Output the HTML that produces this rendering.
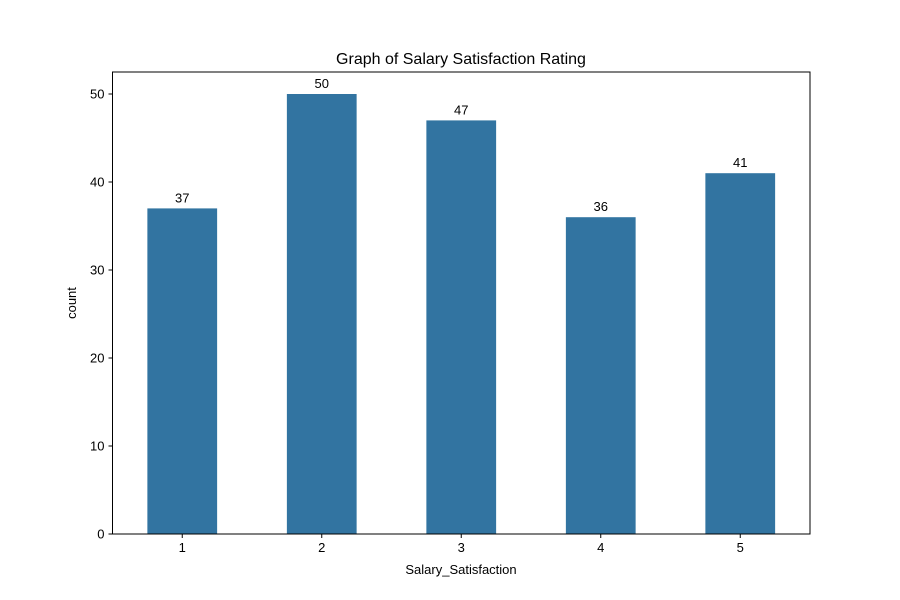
<!DOCTYPE html>
<html><head><meta charset="utf-8"><style>
body{margin:0;background:#fff}
svg{display:block;font-family:"Liberation Sans","DejaVu Sans",sans-serif}
</style></head><body>
<svg id="chart" width="900" height="600">
<rect width="900" height="600" fill="#fff"/>
<text x="461" y="64" text-anchor="middle" font-size="16">Graph of Salary Satisfaction Rating</text>
<g id="marks"></g>
<rect x="112.5" y="72" width="697.5" height="462" fill="none" stroke="#000" stroke-width="1"/>
<text x="461" y="574" text-anchor="middle" font-size="13">Salary_Satisfaction</text>
<text transform="translate(76,303) rotate(-90)" text-anchor="middle" font-size="13">count</text>
</svg>
<script>
const categories = ["1","2","3","4","5"];
const counts = [37,50,47,36,41];
const yTicks = [0,10,20,30,40,50];

const X0=112.5,X1=810,Y0=534,Y1=72,YMAX=52.5;
const xs=i=>X0+(i+0.5)*(X1-X0)/categories.length;
const ys=v=>Y0-v*(Y0-Y1)/YMAX;
const NS="http://www.w3.org/2000/svg";
const g=document.getElementById('marks');
function mk(t,a){const e=document.createElementNS(NS,t);for(const k in a)e.setAttribute(k,a[k]);g.appendChild(e);return e;}
const bw=0.5*(X1-X0)/categories.length;
categories.forEach((c,i)=>{
  const b=mk('rect',{x:xs(i)-bw/2,y:ys(counts[i]),width:bw,height:Y0-ys(counts[i]),fill:'#3274a1'});
  
  
  const l=mk('text',{x:xs(i),y:ys(counts[i])-6,'text-anchor':'middle','font-size':13});
  l.textContent=counts[i];
  
  
  const tk=mk('line',{x1:xs(i),x2:xs(i),y1:Y0,y2:Y0+4,stroke:'#000'});
  
  
  const tl=mk('text',{x:xs(i),y:Y0+18,'text-anchor':'middle','font-size':13});
  tl.textContent=c;
  
  
});
yTicks.forEach(v=>{
  const tk=mk('line',{x1:X0-4,x2:X0,y1:ys(v),y2:ys(v),stroke:'#000'});
  
  
  const tl=mk('text',{x:X0-8,y:ys(v)+4.5,'text-anchor':'end','font-size':13});
  tl.textContent=v;
  
  
});
</script>
</body></html>
